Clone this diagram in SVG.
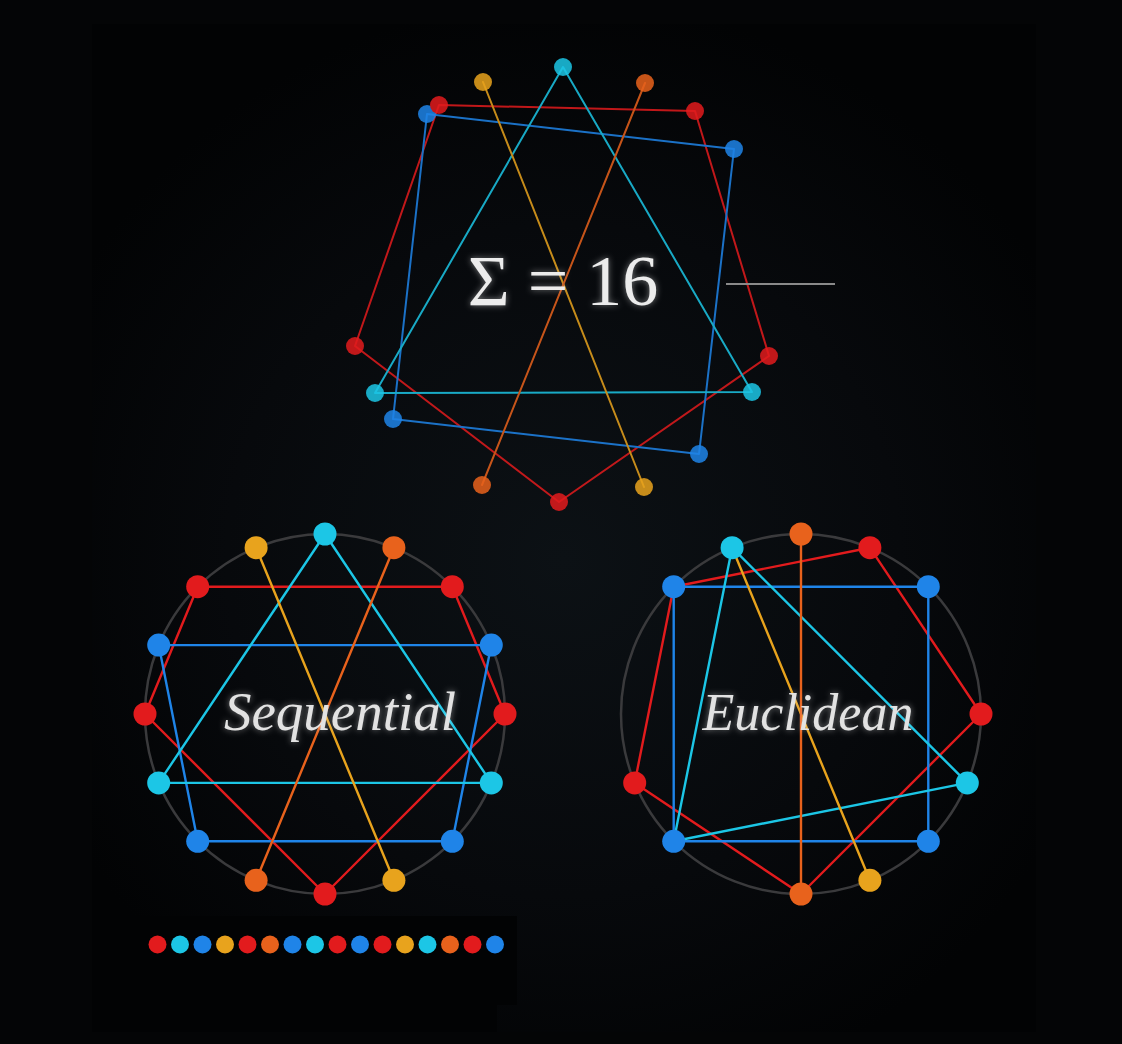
<svg xmlns="http://www.w3.org/2000/svg" width="1122" height="1044" viewBox="0 0 1122 1044">
<defs>
<radialGradient id="bg" cx="563" cy="560" r="560" gradientUnits="userSpaceOnUse">
<stop offset="0" stop-color="#0c1115"/>
<stop offset="0.6" stop-color="#07090c"/>
<stop offset="1" stop-color="#020304"/>
</radialGradient>
<filter id="glow" x="-20%" y="-40%" width="140%" height="180%">
<feGaussianBlur in="SourceAlpha" stdDeviation="3" result="b"/>
<feFlood flood-color="#ffffff" flood-opacity="0.45"/>
<feComposite in2="b" operator="in" result="g"/>
<feMerge><feMergeNode in="g"/><feMergeNode in="SourceGraphic"/></feMerge>
</filter>
</defs>
<style>
.ring{fill:none;stroke:#3a3a3c;stroke-width:2.5}
.e{fill:none;stroke-width:2.4;stroke-linecap:round;stroke-linejoin:round}
.te{fill:none;stroke-width:2;stroke-linecap:round;stroke-linejoin:round}
.r{stroke:#e21b1d}.c{stroke:#1cc6e6}.b{stroke:#1f84e8}.y{stroke:#e8a31d}.o{stroke:#e8621c}
.fr{fill:#e21b1d}.fc{fill:#1cc6e6}.fb{fill:#1f84e8}.fy{fill:#e8a31d}.fo{fill:#e8621c}
.lbl{font-family:"Liberation Serif","DejaVu Serif",serif;font-style:italic;fill:#e2e2e2}
.sum{font-family:"Liberation Serif","DejaVu Serif",serif;fill:#ececec}
</style>
<rect x="0" y="0" width="1122" height="1044" fill="#040506"/>
<rect x="92" y="24" width="944" height="1008" fill="url(#bg)"/>
<rect x="131" y="916" width="386" height="45" fill="#020304"/>
<rect x="112" y="960" width="405" height="45" fill="#020304"/>
<rect x="92" y="1005" width="405" height="27" fill="#020304"/>

<g id="connectors">
<g id="top-edges" opacity="0.85">
<polygon class="te r" points="439,105 695,111 769,356 559,502 355,346"/>
<polygon class="te b" points="427,114 734,149 699,454 393,419"/>
<polygon class="te c" points="563,67 752,392 375,393"/>
<line class="te y" x1="483" y1="82" x2="644" y2="487"/>
<line class="te o" x1="645" y1="83" x2="482" y2="485"/>
</g>
<line x1="726" y1="284" x2="835" y2="284" stroke="#8a8a8a" stroke-width="2"/>
<g id="seq-edges">
<polygon class="e r" points="197.7,586.7 452.3,586.7 505,714 325,894 145,714"/>
<polygon class="e b" points="158.7,645.1 491.3,645.1 452.3,841.3 197.7,841.3"/>
<polygon class="e c" points="325,534 491.3,782.9 158.7,782.9"/>
<line class="e y" x1="256.1" y1="547.7" x2="393.9" y2="880.3"/>
<line class="e o" x1="393.9" y1="547.7" x2="256.1" y2="880.3"/>
</g>
<g id="euc-edges">
<polygon class="e r" points="673.7,586.7 869.9,547.7 981,714 801,894 634.7,782.9"/>
<polygon class="e b" points="673.7,586.7 928.3,586.7 928.3,841.3 673.7,841.3"/>
<polygon class="e c" points="732.1,547.7 967.3,782.9 673.7,841.3"/>
<line class="e y" x1="732.1" y1="547.7" x2="869.9" y2="880.3"/>
<line class="e o" x1="801" y1="534" x2="801" y2="894"/>
</g>
</g>

<g id="top-figure" opacity="0.85">
<circle class="fc" cx="563" cy="67" r="9"/>
<circle class="fy" cx="483" cy="82" r="9"/>
<circle class="fo" cx="645" cy="83" r="9"/>
<circle class="fb" cx="427" cy="114" r="9"/>
<circle class="fr" cx="439" cy="105" r="9"/>
<circle class="fr" cx="695" cy="111" r="9"/>
<circle class="fb" cx="734" cy="149" r="9"/>
<circle class="fr" cx="355" cy="346" r="9"/>
<circle class="fr" cx="769" cy="356" r="9"/>
<circle class="fc" cx="375" cy="393" r="9"/>
<circle class="fc" cx="752" cy="392" r="9"/>
<circle class="fb" cx="393" cy="419" r="9"/>
<circle class="fb" cx="699" cy="454" r="9"/>
<circle class="fo" cx="482" cy="485" r="9"/>
<circle class="fr" cx="559" cy="502" r="9"/>
<circle class="fy" cx="644" cy="487" r="9"/>
</g>
<g id="sum-label">
<text class="sum" x="563" y="305" font-size="72" text-anchor="middle" filter="url(#glow)">Σ = 16</text>
</g>

<g id="sequential">
<circle class="ring" cx="325" cy="714" r="180"/>
<circle class="fc" cx="325" cy="534" r="11.5"/>
<circle class="fo" cx="393.9" cy="547.7" r="11.5"/>
<circle class="fr" cx="452.3" cy="586.7" r="11.5"/>
<circle class="fb" cx="491.3" cy="645.1" r="11.5"/>
<circle class="fr" cx="505" cy="714" r="11.5"/>
<circle class="fc" cx="491.3" cy="782.9" r="11.5"/>
<circle class="fb" cx="452.3" cy="841.3" r="11.5"/>
<circle class="fy" cx="393.9" cy="880.3" r="11.5"/>
<circle class="fr" cx="325" cy="894" r="11.5"/>
<circle class="fo" cx="256.1" cy="880.3" r="11.5"/>
<circle class="fb" cx="197.7" cy="841.3" r="11.5"/>
<circle class="fc" cx="158.7" cy="782.9" r="11.5"/>
<circle class="fr" cx="145" cy="714" r="11.5"/>
<circle class="fb" cx="158.7" cy="645.1" r="11.5"/>
<circle class="fr" cx="197.7" cy="586.7" r="11.5"/>
<circle class="fy" cx="256.1" cy="547.7" r="11.5"/>
<text class="lbl" x="340" y="730" font-size="55" text-anchor="middle" filter="url(#glow)">Sequential</text>
</g>

<g id="euclidean">
<circle class="ring" cx="801" cy="714" r="180"/>
<circle class="fo" cx="801" cy="534" r="11.5"/>
<circle class="fr" cx="869.9" cy="547.7" r="11.5"/>
<circle class="fb" cx="928.3" cy="586.7" r="11.5"/>
<circle class="fr" cx="981" cy="714" r="11.5"/>
<circle class="fc" cx="967.3" cy="782.9" r="11.5"/>
<circle class="fb" cx="928.3" cy="841.3" r="11.5"/>
<circle class="fy" cx="869.9" cy="880.3" r="11.5"/>
<circle class="fo" cx="801" cy="894" r="11.5"/>
<circle class="fb" cx="673.7" cy="841.3" r="11.5"/>
<circle class="fr" cx="634.7" cy="782.9" r="11.5"/>
<circle class="fb" cx="673.7" cy="586.7" r="11.5"/>
<circle class="fc" cx="732.1" cy="547.7" r="11.5"/>
<text class="lbl" x="808" y="730" font-size="52" text-anchor="middle" filter="url(#glow)">Euclidean</text>
</g>

<g id="sequence-row">
<circle class="fr" cx="157.5" cy="944.5" r="9"/>
<circle class="fc" cx="180" cy="944.5" r="9"/>
<circle class="fb" cx="202.5" cy="944.5" r="9"/>
<circle class="fy" cx="225" cy="944.5" r="9"/>
<circle class="fr" cx="247.5" cy="944.5" r="9"/>
<circle class="fo" cx="270" cy="944.5" r="9"/>
<circle class="fb" cx="292.5" cy="944.5" r="9"/>
<circle class="fc" cx="315" cy="944.5" r="9"/>
<circle class="fr" cx="337.5" cy="944.5" r="9"/>
<circle class="fb" cx="360" cy="944.5" r="9"/>
<circle class="fr" cx="382.5" cy="944.5" r="9"/>
<circle class="fy" cx="405" cy="944.5" r="9"/>
<circle class="fc" cx="427.5" cy="944.5" r="9"/>
<circle class="fo" cx="450" cy="944.5" r="9"/>
<circle class="fr" cx="472.5" cy="944.5" r="9"/>
<circle class="fb" cx="495" cy="944.5" r="9"/>
</g>
</svg>
